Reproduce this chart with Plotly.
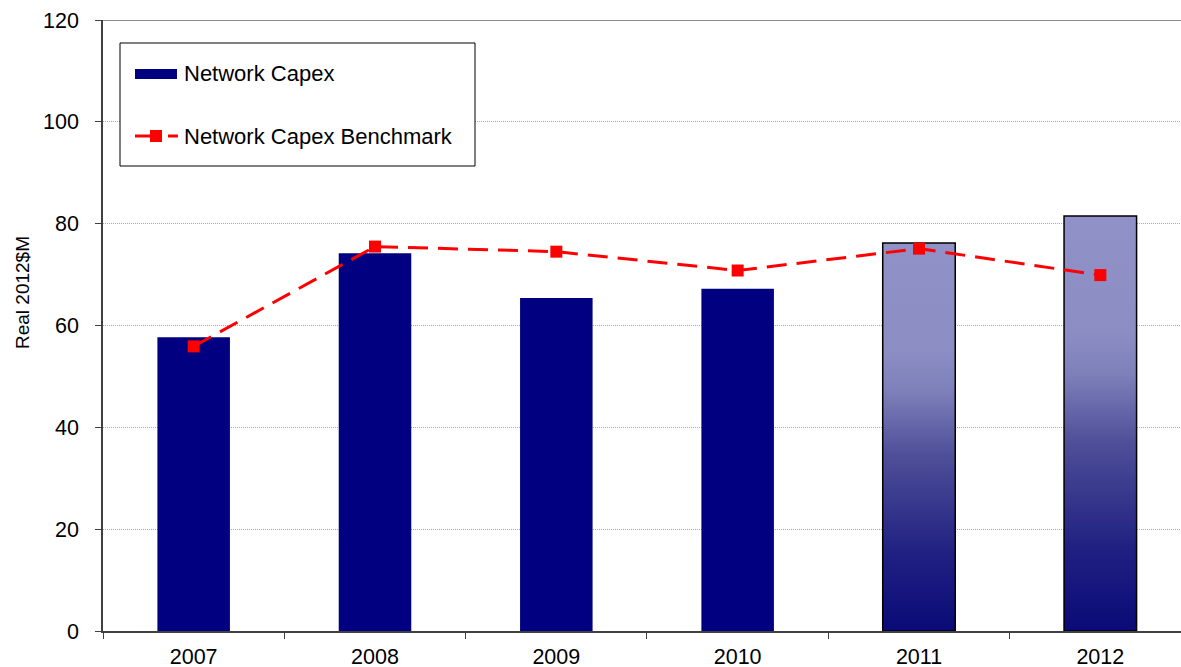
import plotly.graph_objects as go

# Network capital expenditure vs benchmark, real 2012 $M
years = ["2007", "2008", "2009", "2010", "2011", "2012"]
capex = [57.7, 74.2, 65.4, 67.2, 76.2, 81.5]
benchmark = [55.9, 75.5, 74.5, 70.8, 75.1, 69.9]
forecast = [False, False, False, False, True, True]

W, H = 1181, 667
L, R, T, B = 103, 1181, 20, 631
BAR_W = 0.4
SLOT = 181.33  # pixel width of one category slot
NAVY = "#000080"
RED = "#ff0000"
FONT = "Liberation Sans, Arial, sans-serif"

idx = list(range(len(years)))

fig = go.Figure()

# Solid bars
fig.add_trace(go.Bar(
    x=idx, y=capex, width=BAR_W,
    marker=dict(color=NAVY, line=dict(width=0)),
    showlegend=False, hoverinfo="skip",
))

# Gradient-filled bars for forecast years
for i, (v, f) in enumerate(zip(capex, forecast)):
    if not f:
        continue
    x0, x1 = i - BAR_W / 2, i + BAR_W / 2
    fig.add_trace(go.Scatter(
        x=[x0, x1, x1, x0, x0], y=[0, 0, v, v, 0],
        mode="lines", fill="toself",
        line=dict(color="#000000", width=1.5),
        fillgradient=dict(
            type="vertical", start=0, stop=v,
            colorscale=[[0, "#0a0a78"], [0.2, "#202082"], [0.45, "#4e4e98"],
                        [0.62, "#7e80ba"], [0.72, "#8b8dc3"], [1, "#8f91c7"]],
        ),
        showlegend=False, hoverinfo="skip",
    ))

# Benchmark line
fig.add_trace(go.Scatter(
    x=idx, y=benchmark, mode="lines+markers",
    line=dict(color=RED, width=3, dash="20px,10px"),
    marker=dict(symbol="square", size=12, color=RED),
    showlegend=False,
))


def px(xp):
    return (xp - L) / (R - L)


def py(yp):
    return (B - yp) / (B - T)


shapes = [
    # top frame line
    dict(type="line", xref="paper", yref="y", x0=0, x1=1, y0=120, y1=120,
         line=dict(color="#8c8c8c", width=2)),
    # legend box
    dict(type="rect", xref="paper", yref="paper",
         x0=px(120), x1=px(475), y0=py(43), y1=py(166),
         line=dict(color="#000000", width=1), fillcolor="#ffffff"),
    # legend bar swatch
    dict(type="rect", xref="paper", yref="paper",
         x0=px(135), x1=px(177), y0=py(69), y1=py(79),
         line=dict(width=0), fillcolor=NAVY),
    # legend line swatch
    dict(type="line", xref="paper", yref="paper",
         x0=px(135), x1=px(160), y0=py(136), y1=py(136),
         line=dict(color=RED, width=3)),
    dict(type="line", xref="paper", yref="paper",
         x0=px(168), x1=px(178), y0=py(136), y1=py(136),
         line=dict(color=RED, width=3)),
    dict(type="rect", xref="paper", yref="paper",
         x0=px(150), x1=px(162), y0=py(130), y1=py(142),
         line=dict(width=0), fillcolor=RED),
]

annotations = [
    dict(text="Network Capex", xref="paper", yref="paper", x=px(182), y=py(74),
         xanchor="left", yanchor="middle", showarrow=False,
         font=dict(family=FONT, size=22, color="#000000")),
    dict(text="Network Capex Benchmark", xref="paper", yref="paper", x=px(182), y=py(136),
         xanchor="left", yanchor="middle", showarrow=False,
         font=dict(family=FONT, size=22, color="#000000")),
    dict(text="Real 2012$M", xref="paper", yref="paper", x=px(22), y=py(293),
         xanchor="center", yanchor="middle", textangle=-90, showarrow=False,
         font=dict(family=FONT, size=19, color="#000000")),
]

fig.update_layout(
    width=W, height=H,
    margin=dict(l=L, r=W - R, t=T, b=H - B, autoexpand=False),
    paper_bgcolor="#ffffff", plot_bgcolor="#ffffff",
    font=dict(family=FONT, color="#000000"),
    shapes=shapes, annotations=annotations,
    xaxis=dict(
        range=[-0.5, -0.5 + (R - L) / SLOT],
        tickmode="array", tickvals=idx, ticktext=years, ticks="",
        ticklabelstandoff=5, automargin=False,
        tickfont=dict(family=FONT, size=21.5, color="#000000"),
        minor=dict(tickmode="array", tickvals=[i - 0.5 for i in range(len(years) + 1)],
                   ticks="outside", ticklen=6, tickcolor="#404040", tickwidth=1,
                   showgrid=False),
        showline=True, linecolor="#404040", linewidth=1.5,
        showgrid=False, zeroline=False, fixedrange=True,
    ),
    yaxis=dict(
        range=[0, 120], tickmode="linear", tick0=0, dtick=20,
        ticks="outside", ticklen=6, tickcolor="#404040", tickwidth=1,
        ticklabelstandoff=12, automargin=False,
        tickfont=dict(family=FONT, size=21.5, color="#000000"),
        showline=True, linecolor="#404040", linewidth=1.5,
        showgrid=True, gridcolor="#a8a8a8", gridwidth=1, griddash="1px,1px",
        zeroline=False, fixedrange=True,
    ),
)

fig.write_html("out.html")
